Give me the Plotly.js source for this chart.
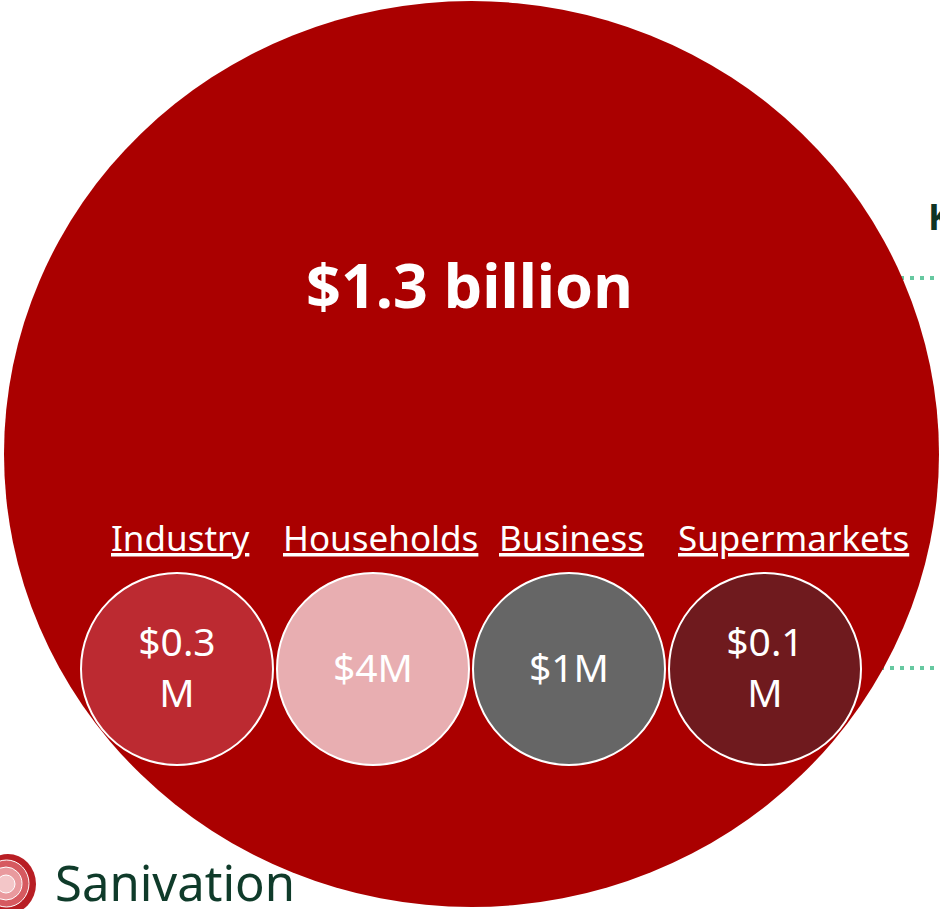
<!DOCTYPE html>
<html>
<head>
<meta charset="utf-8">
<script src="https://cdn.plot.ly/plotly-3.0.1.min.js"></script>
<style>html,body{margin:0;padding:0;background:#fff;}#chart{width:940px;height:909px;}</style>
</head>
<body>
<div id="chart"></div>
<script>
// ---- data ----
var totalLabel = '$1.3 billion';
var categories = ['Industry', 'Households', 'Business', 'Supermarkets'];
var valueLabels = ['$0.3<br>M', '$4M', '$1M', '$0.1<br>M'];
var circleColors = ['#BC2A31', '#E8AEB1', '#666666', '#6F1A1E'];
var brandName = 'Sanivation';

// ---- layout helpers (pixel space) ----
var W = 940, H = 909;
var firstX = 177, stepX = 196, rowY = 669, diam = 192;
var xs = categories.map(function (c, i) { return firstX + i * stepX; });
var ys = categories.map(function () { return rowY; });
var labelXs = [180, 380, 571, 793];

var fontFam = 'Noto Sans, Open Sans, sans-serif';

var circlesTrace = {
  type: 'scatter', mode: 'markers',
  x: xs, y: ys,
  marker: {size: diam, color: circleColors, line: {color: '#ffffff', width: 2}, opacity: 1},
  hoverinfo: 'skip', cliponaxis: false, showlegend: false
};
var valuesTrace = {
  type: 'scatter', mode: 'text',
  x: xs, y: ys.map(function (y) { return y + 3; }),
  text: valueLabels,
  textposition: 'middle center',
  textfont: {family: fontFam, size: 39, color: '#ffffff'},
  hoverinfo: 'skip', cliponaxis: false, showlegend: false
};

var shapes = [
  // dotted connector lines (behind big circle)
  {type: 'line', xref: 'x', yref: 'y', x0: 860, x1: 945, y0: 278, y1: 278, layer: 'below',
   line: {color: '#66C8A0', width: 4, dash: '4px,6px'}},
  {type: 'line', xref: 'x', yref: 'y', x0: 860, x1: 945, y0: 668, y1: 668, layer: 'below',
   line: {color: '#66C8A0', width: 4, dash: '4px,6px'}},
  // big total circle
  {type: 'circle', xref: 'x', yref: 'y', x0: 4, x1: 939, y0: 1, y1: 907, layer: 'below',
   fillcolor: '#AA0000', line: {width: 0}},
  // logo flower
  {type: 'circle', xref: 'x', yref: 'y', x0: -20, x1: 36, y0: 854, y1: 914, layer: 'below',
   fillcolor: '#B81E24', line: {width: 0}},
  {type: 'circle', xref: 'x', yref: 'y', x0: -16, x1: 29, y0: 860, y1: 907, layer: 'below',
   fillcolor: '#D65A60', line: {color: '#ffffff', width: 1}},
  {type: 'circle', xref: 'x', yref: 'y', x0: -10, x1: 22, y0: 867, y1: 900, layer: 'below',
   fillcolor: '#E99A9E', line: {color: '#ffffff', width: 1}},
  {type: 'circle', xref: 'x', yref: 'y', x0: -3, x1: 15, y0: 875, y1: 893, layer: 'below',
   fillcolor: '#F3C6C8', line: {color: '#ffffff', width: 1}}
];

var annotations = [
  {x: 469, y: 284, xref: 'x', yref: 'y', text: '<b>' + totalLabel + '</b>', showarrow: false,
   font: {family: fontFam, size: 61, color: '#ffffff'}, xanchor: 'center', yanchor: 'middle'},
  {x: 926, y: 216, xref: 'x', yref: 'y', text: '<b>K</b>', showarrow: false,
   font: {family: fontFam, size: 36, color: '#0F3324'}, xanchor: 'left', yanchor: 'middle'},
  {x: 175, y: 882, xref: 'x', yref: 'y', text: brandName, showarrow: false,
   font: {family: fontFam, size: 49, color: '#0F3B2A'}, xanchor: 'center', yanchor: 'middle'}
];
categories.forEach(function (c, i) {
  annotations.push({x: labelXs[i], y: 537, xref: 'x', yref: 'y', text: '<u>' + c + '</u>', showarrow: false,
    font: {family: fontFam, size: 35, color: '#ffffff'}, xanchor: 'center', yanchor: 'middle'});
});

var layout = {
  width: W, height: H,
  margin: {l: 0, r: 0, t: 0, b: 0, pad: 0},
  paper_bgcolor: '#ffffff', plot_bgcolor: '#ffffff',
  xaxis: {range: [0, W], visible: false, fixedrange: true},
  yaxis: {range: [H, 0], visible: false, fixedrange: true},
  shapes: shapes, annotations: annotations, showlegend: false
};

Plotly.newPlot('chart', [circlesTrace, valuesTrace], layout, {displayModeBar: false, staticPlot: true});
</script>
</body>
</html>
